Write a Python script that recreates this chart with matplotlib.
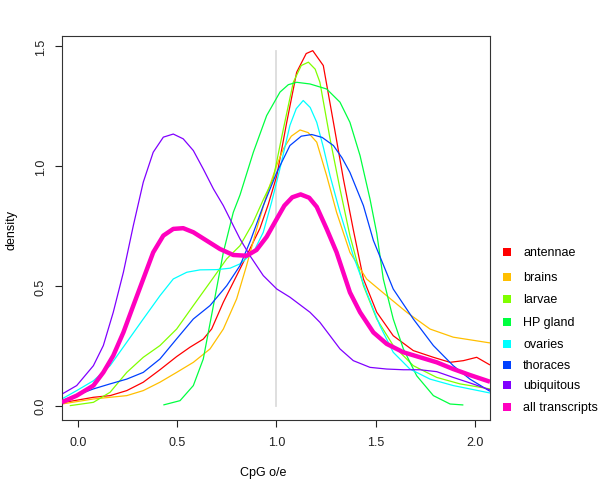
import numpy as np
import matplotlib
matplotlib.use("Agg")
import matplotlib.pyplot as plt
from matplotlib.patches import Rectangle

plt.rcParams['font.family'] = ['Liberation Sans', 'DejaVu Sans']

# density curves (x = CpG o/e, y = density)
antennae_x = [-0.08, 0.079, 0.163, 0.247, 0.330, 0.414, 0.498, 0.565, 0.632, 0.674, 0.733, 0.800, 0.850,
              0.917, 0.959, 1.002, 1.052, 1.102, 1.150, 1.183, 1.236, 1.287, 1.337, 1.387, 1.438, 1.505,
              1.588, 1.689, 1.790, 1.874, 1.941, 2.008, 2.075]
antennae_y = [0.012, 0.035, 0.042, 0.063, 0.098, 0.150, 0.205, 0.244, 0.278, 0.320, 0.432, 0.543, 0.626,
              0.740, 0.840, 0.960, 1.183, 1.392, 1.470, 1.482, 1.420, 1.183, 0.947, 0.735, 0.529, 0.390,
              0.292, 0.230, 0.202, 0.181, 0.188, 0.202, 0.170]

brains_x = [-0.08, 0.079, 0.247, 0.330, 0.414, 0.498, 0.582, 0.666, 0.733, 0.800, 0.850, 0.901, 0.951,
            1.000, 1.035, 1.075, 1.119, 1.160, 1.203, 1.253, 1.303, 1.370, 1.454, 1.555, 1.656, 1.773,
            1.890, 2.075]
brains_y = [0.007, 0.028, 0.042, 0.063, 0.098, 0.139, 0.181, 0.237, 0.320, 0.446, 0.585, 0.738, 0.880,
            1.000, 1.072, 1.125, 1.151, 1.140, 1.100, 0.960, 0.807, 0.640, 0.529, 0.459, 0.390, 0.320,
            0.286, 0.262]

larvae_x = [-0.04, 0.079, 0.163, 0.247, 0.330, 0.414, 0.498, 0.582, 0.666, 0.750, 0.817, 0.880, 0.934,
            0.984, 1.035, 1.085, 1.125, 1.161, 1.195, 1.219, 1.270, 1.320, 1.370, 1.438, 1.505, 1.588,
            1.689, 1.807, 1.924, 2.075]
larvae_y = [0.000, 0.014, 0.056, 0.139, 0.202, 0.251, 0.320, 0.418, 0.515, 0.613, 0.668, 0.760, 0.860,
            0.947, 1.155, 1.350, 1.420, 1.434, 1.405, 1.350, 1.114, 0.905, 0.710, 0.501, 0.362, 0.251,
            0.167, 0.118, 0.091, 0.070]

hpgland_x = [0.431, 0.515, 0.582, 0.632, 0.683, 0.733, 0.783, 0.817, 0.884, 0.951, 1.018, 1.060, 1.102,
             1.169, 1.253, 1.320, 1.370, 1.421, 1.471, 1.505, 1.538, 1.588, 1.639, 1.706, 1.790, 1.874,
             1.941]
hpgland_y = [0.003, 0.021, 0.084, 0.195, 0.418, 0.640, 0.807, 0.880, 1.058, 1.211, 1.309, 1.340, 1.350,
             1.343, 1.322, 1.267, 1.183, 1.044, 0.863, 0.720, 0.529, 0.362, 0.237, 0.125, 0.042, 0.007,
             0.003]

ovaries_x = [-0.08, -0.005, 0.079, 0.163, 0.247, 0.330, 0.414, 0.481, 0.549, 0.616, 0.700, 0.767, 0.817,
             0.884, 0.934, 0.976, 1.018, 1.068, 1.100, 1.135, 1.170, 1.203, 1.236, 1.270, 1.320,
             1.387, 1.454, 1.521, 1.588, 1.672, 1.773, 1.890, 2.075]
ovaries_y = [0.028, 0.063, 0.104, 0.167, 0.265, 0.362, 0.459, 0.529, 0.557, 0.567, 0.568, 0.574, 0.592,
             0.640, 0.724, 0.850, 0.990, 1.170, 1.240, 1.274, 1.245, 1.183, 1.080, 0.960, 0.807,
             0.626, 0.473, 0.334, 0.223, 0.153, 0.111, 0.084, 0.053]

thoraces_x = [-0.08, 0.079, 0.163, 0.247, 0.330, 0.414, 0.498, 0.582, 0.666, 0.750, 0.817, 0.870, 0.934,
              1.002, 1.068, 1.125, 1.178, 1.230, 1.287, 1.330, 1.370, 1.438, 1.488, 1.588, 1.689, 1.790,
              1.890, 1.974, 2.075]
thoraces_y = [0.021, 0.070, 0.091, 0.111, 0.139, 0.195, 0.279, 0.362, 0.418, 0.501, 0.585, 0.690, 0.835,
              0.974, 1.086, 1.125, 1.132, 1.120, 1.086, 1.035, 0.974, 0.835, 0.690, 0.487, 0.362, 0.251,
              0.167, 0.111, 0.060]

ubiquitous_x = [-0.08, -0.005, 0.079, 0.129, 0.179, 0.230, 0.280, 0.330, 0.380, 0.431, 0.481, 0.531,
                0.582, 0.632, 0.683, 0.733, 0.783, 0.817, 0.867, 0.934, 1.002, 1.068, 1.169, 1.219,
                1.270, 1.320, 1.387, 1.471, 1.555, 1.639, 1.723, 1.807, 1.890, 1.974, 2.075]
ubiquitous_y = [0.048, 0.084, 0.167, 0.251, 0.390, 0.557, 0.752, 0.933, 1.058, 1.121, 1.134, 1.114,
                1.065, 0.988, 0.905, 0.835, 0.752, 0.696, 0.626, 0.543, 0.487, 0.453, 0.390, 0.348,
                0.292, 0.237, 0.188, 0.160, 0.153, 0.150, 0.150, 0.142, 0.118, 0.095, 0.066]

all_x = [-0.08, -0.005, 0.079, 0.129, 0.179, 0.230, 0.280, 0.330, 0.380, 0.431, 0.481, 0.531, 0.582,
         0.649, 0.716, 0.783, 0.850, 0.900, 0.951, 1.002, 1.040, 1.080, 1.122, 1.165, 1.203, 1.253,
         1.303, 1.370, 1.421, 1.488, 1.555, 1.639, 1.723, 1.807, 1.890, 1.974, 2.075]
all_y = [0.014, 0.042, 0.084, 0.139, 0.209, 0.306, 0.418, 0.529, 0.640, 0.710, 0.738, 0.741, 0.724,
         0.689, 0.654, 0.629, 0.626, 0.650, 0.705, 0.780, 0.835, 0.870, 0.882, 0.868, 0.830, 0.738,
         0.640, 0.473, 0.390, 0.306, 0.258, 0.223, 0.202, 0.181, 0.153, 0.128, 0.100]

labels = ['antennae', 'brains', 'larvae', 'HP gland', 'ovaries', 'thoraces', 'ubiquitous', 'all transcripts']
colors = ['#FF0000', '#FFBF00', '#80FF00', '#00FF40', '#00FFFF', '#0040FF', '#8000FF', '#FF00BF']
series = [(antennae_x, antennae_y), (brains_x, brains_y), (larvae_x, larvae_y), (hpgland_x, hpgland_y),
          (ovaries_x, ovaries_y), (thoraces_x, thoraces_y), (ubiquitous_x, ubiquitous_y), (all_x, all_y)]

# hand-placed legend rows (pixel y of each row, as in the original)
legend_rows = [253, 278, 300, 323, 345, 366, 386, 408]

W, H = 600, 489
fig = plt.figure(figsize=(6.0, 4.89), dpi=100)
ax = fig.add_axes([62 / W, 1 - 421.3 / H, (490 - 62) / W, (421.3 - 37.3) / H])

ax.plot([1.0, 1.0], [0.0, 1.48], color='#DCDCDC', lw=1.3, zorder=1)

for (xs, ys), c, lab in zip(series, colors, labels):
    lw = 3.2 if lab == 'all transcripts' else 0.9
    ax.plot(xs, ys, color=c, lw=lw, solid_capstyle='butt', solid_joinstyle='round',
            zorder=3 if lab == 'all transcripts' else 2)

ax.set_xlim(-0.079, 2.075)
ax.set_ylim(-0.061, 1.542)
ax.set_xticks([0.0, 0.5, 1.0, 1.5, 2.0])
ax.set_xticklabels(['0.0', '0.5', '1.0', '1.5', '2.0'])
ax.set_yticks([0.0, 0.5, 1.0, 1.5])
ax.set_yticklabels(['0.0', '0.5', '1.0', '1.5'], rotation=90, va='center')
ax.tick_params(direction='out', length=5, width=0.8, colors='#222222', labelsize=9, pad=6)
for s in ax.spines.values():
    s.set_linewidth(0.8)
    s.set_color('#333333')

fig.text(262.7 / W, 1 - 473 / H, 'CpG o/e', ha='center', va='center', fontsize=9)
fig.text(11 / W, 1 - 230 / H, 'density', ha='center', va='center', rotation=90, fontsize=9)

for c, lab, py in zip(colors, labels, legend_rows):
    fig.patches.append(Rectangle((503 / W, 1 - (py + 4) / H), 8 / W, 8 / H,
                                 transform=fig.transFigure, facecolor=c, edgecolor='none'))
    fig.text(523 / W, 1 - py / H, lab, ha='left', va='center', fontsize=9)

fig.savefig('out.png', dpi=100)
